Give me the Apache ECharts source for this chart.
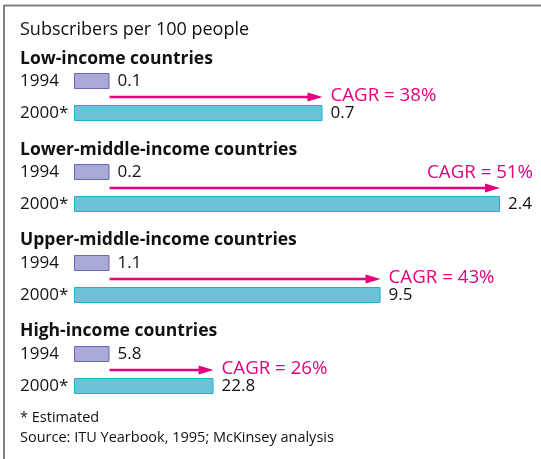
<!DOCTYPE html>
<html>
<head>
<meta charset="utf-8">
<script src="https://cdn.jsdelivr.net/npm/echarts@6/dist/echarts.min.js"></script>
<style>
html,body{margin:0;padding:0;background:#fff;}
#c{width:541px;height:459px;}
</style>
</head>
<body>
<div id="c"></div>
<script>
const groups = ['Low-income countries', 'Lower-middle-income countries', 'Upper-middle-income countries', 'High-income countries'];
const years = ['1994', '2000*'];
const values1994 = [0.1, 0.2, 1.1, 5.8];
const values2000 = [0.7, 2.4, 9.5, 22.8];
const cagr = [38, 51, 43, 26];
const title = 'Subscribers per 100 people';
const footnote = '* Estimated';
const source = 'Source: ITU Yearbook, 1995; McKinsey analysis';

const FONT = '"Open Sans", "Noto Sans", sans-serif';
const PINK = '#e6007e';
const gridTops = [65, 156, 247, 338];
const headingY = [59, 150, 240, 331];

const chart = echarts.init(document.getElementById('c'), null, {renderer: 'canvas'});

const grids = [], xAxes = [], yAxes = [], series = [];
groups.forEach((g, i) => {
  grids.push({left: 74, width: 443.75, top: gridTops[i], height: 64});
  xAxes.push({gridIndex: i, type: 'value', min: 0, max: 12.5, show: false});
  yAxes.push({
    gridIndex: i, type: 'category', data: years, inverse: true,
    axisLine: {show: false}, axisTick: {show: false},
    axisLabel: {align: 'left', margin: 54, fontFamily: FONT, fontSize: 17, color: '#111'}
  });
  const base = values1994[i];
  const raw = [values1994[i], values2000[i]];
  series.push({
    type: 'bar', xAxisIndex: i, yAxisIndex: i, barWidth: 16, silent: true,
    animation: false,
    data: raw.map((v, k) => ({
      value: v / base,
      itemStyle: k === 0
        ? {color: '#a9a9d8', borderColor: '#6868b6', borderWidth: 1}
        : {color: '#6cc3d7', borderColor: '#22aed1', borderWidth: 1}
    })),
    label: {
      show: true, position: 'right', distance: 8,
      fontFamily: FONT, fontSize: 17, color: '#111',
      formatter: p => String(raw[p.dataIndex])
    }
  });
});

const baseGraphics = [
  {type: 'line', shape: {x1: 4, y1: 5.5, x2: 541, y2: 5.5}, style: {stroke: '#808080', lineWidth: 2}},
  {type: 'line', shape: {x1: 4, y1: 5, x2: 4, y2: 459}, style: {stroke: '#808080', lineWidth: 2}},
  {type: 'text', x: 20, y: 30, style: {text: title, font: '18px ' + FONT, fill: '#111', textVerticalAlign: 'middle'}}
];
groups.forEach((g, i) => {
  baseGraphics.push({type: 'text', x: 20, y: headingY[i], style: {text: g, font: 'bold 17.5px ' + FONT, fill: '#111', textVerticalAlign: 'middle'}});
});
baseGraphics.push({type: 'text', x: 20, y: 418, style: {text: footnote, font: '14.5px ' + FONT, fill: '#111', textVerticalAlign: 'middle'}});
baseGraphics.push({type: 'text', x: 20, y: 438, style: {text: source, font: '14.5px ' + FONT, fill: '#111', textVerticalAlign: 'middle'}});

chart.setOption({
  animation: false,
  grid: grids, xAxis: xAxes, yAxis: yAxes, series: series,
  graphic: baseGraphics
});

const arrows = [];
groups.forEach((g, i) => {
  const ratio = values2000[i] / values1994[i];
  const p0 = chart.convertToPixel({gridIndex: i}, [1, 0]);
  const p1 = chart.convertToPixel({gridIndex: i}, [ratio, 1]);
  const y = (p0[1] + p1[1]) / 2;
  const x0 = p0[0], x1 = p1[0];
  const L = 15, H = 4.5;
  arrows.push({type: 'line', shape: {x1: x0, y1: y, x2: x1 - L + 2, y2: y}, style: {stroke: PINK, lineWidth: 2.5}});
  arrows.push({type: 'polygon', shape: {points: [[x1, y], [x1 - L, y - H], [x1 - L, y + H]]}, style: {fill: PINK}});
  const txt = 'CAGR = ' + cagr[i] + '%';
  const fits = x1 + 8 + 110 <= 536;
  if (fits) {
    arrows.push({type: 'text', x: x1 + 8, y: y - 1, style: {text: txt, font: '18.7px ' + FONT, fill: PINK, textVerticalAlign: 'middle'}});
  } else {
    arrows.push({type: 'text', x: 533, y: y - 15, style: {text: txt, font: '18.7px ' + FONT, fill: PINK, textAlign: 'right', textVerticalAlign: 'middle'}});
  }
});
chart.setOption({graphic: baseGraphics.concat(arrows)});
</script>
</body>
</html>
